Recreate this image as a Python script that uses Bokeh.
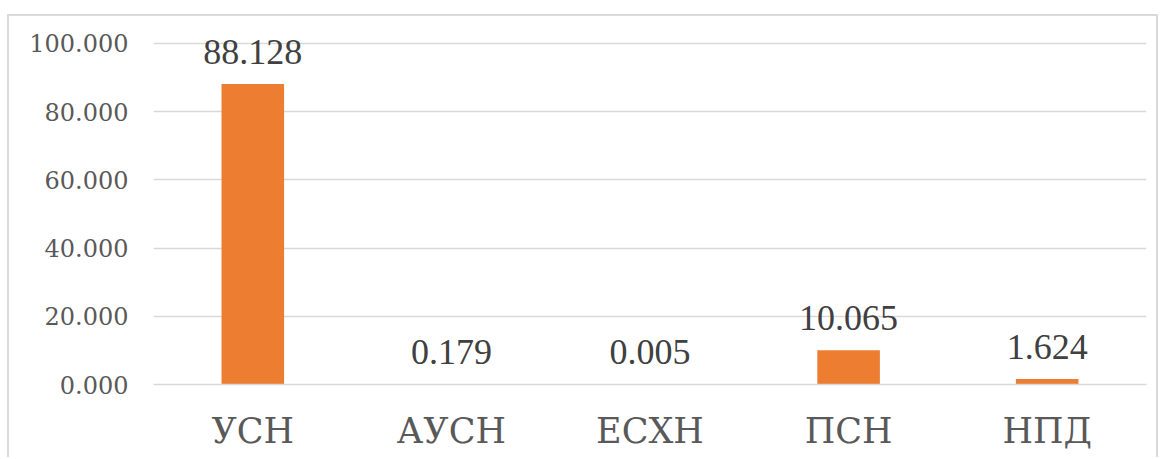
from bokeh.plotting import figure
from bokeh.models import Range1d, FixedTicker, NumeralTickFormatter, ColumnDataSource, LabelSet
from bokeh.embed import file_html
from bokeh.resources import INLINE

# Share of taxpayers by special tax regime, %
categories = ["УСН", "АУСН", "ЕСХН", "ПСН", "НПД"]
values = [88.128, 0.179, 0.005, 10.065, 1.624]
labels = ["88.128", "0.179", "0.005", "10.065", "1.624"]
y_ticks = [0, 20, 40, 60, 80, 100]

SERIF = "DejaVu Serif"
BAR = "#ED7D31"
GRID = "#D9D9D9"

source = ColumnDataSource(data=dict(cat=categories, val=values, lab=labels))

p = figure(
    x_range=categories,
    y_range=Range1d(0, 106.74),
    width=1151,
    height=443,
    output_backend="svg",
    toolbar_location=None,
    min_border_left=144,
    min_border_right=14,
    min_border_top=4,
    min_border_bottom=75,
)
p.margin = (14, 0, 0, 7)
p.styles = {
    "border-left": f"2px solid {GRID}",
    "border-right": f"2px solid {GRID}",
    "border-top": f"2px solid {GRID}",
}
p.outline_line_color = None
p.background_fill_color = "white"
p.border_fill_color = "white"

p.vbar(x="cat", top="val", width=0.315, source=source, fill_color=BAR, line_color=None)

p.add_layout(LabelSet(
    x="cat", y="val", text="lab", source=source,
    text_align="center", text_baseline="alphabetic", y_offset=20,
    text_font=SERIF, text_font_size="36px", text_color="#404040",
))

# grid
p.xgrid.grid_line_color = None
p.ygrid.grid_line_color = GRID
p.ygrid.grid_line_width = 1.5
p.ygrid.ticker = FixedTicker(ticks=y_ticks)

# y axis
p.yaxis.ticker = FixedTicker(ticks=y_ticks)
p.yaxis.formatter = NumeralTickFormatter(format="0.000")
p.yaxis.axis_line_color = None
p.yaxis.major_tick_line_color = None
p.yaxis.minor_tick_line_color = None
p.yaxis.major_label_standoff = 19
p.yaxis.major_label_text_font = SERIF
p.yaxis.major_label_text_font_size = "24px"
p.yaxis.major_label_text_color = "#595959"

# x axis
p.xaxis.axis_line_color = GRID
p.xaxis.axis_line_width = 1.5
p.xaxis.major_tick_line_color = None
p.xaxis.minor_tick_line_color = None
p.xaxis.major_label_standoff = 20
p.xaxis.major_label_text_font = SERIF
p.xaxis.major_label_text_font_size = "35px"
p.xaxis.major_label_text_color = "#595959"

open("out.html", "w").write(file_html(p, INLINE))
